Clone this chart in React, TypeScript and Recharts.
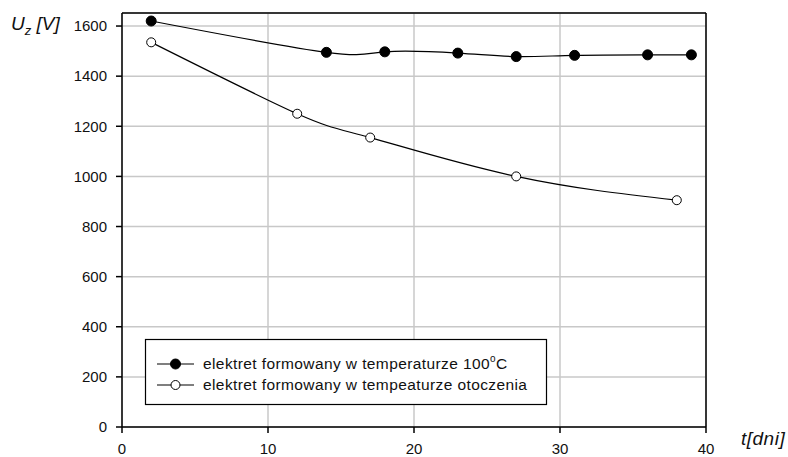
import { CartesianGrid, Line, LineChart, ReferenceLine, XAxis, YAxis } from 'recharts';

// days since forming
const heatedDays = [2, 14, 18, 23, 27, 31, 36, 39];
const heatedVolts = [1620, 1495, 1497, 1492, 1478, 1483, 1485, 1485];

const roomDays = [2, 12, 17, 27, 38];
const roomVolts = [1535, 1250, 1155, 1000, 905];

const xTicks = [0, 10, 20, 30, 40];
const yTicks = [0, 200, 400, 600, 800, 1000, 1200, 1400, 1600];

const heatedData = heatedDays.map((t, i) => ({ t, u: heatedVolts[i] }));
const roomData = roomDays.map((t, i) => ({ t, u: roomVolts[i] }));

const FONT = '"Liberation Sans", Arial, sans-serif';

// legend + axis titles drawn on top of the chart
const Overlay = () => (
  <svg
    width={788}
    height={457}
    style={{ position: 'absolute', left: 0, top: 0, pointerEvents: 'none' }}
    fontFamily={FONT}
    fill="#111"
  >
    <rect x={145.5} y={339.5} width={401} height={65} fill="#fff" stroke="#000" strokeWidth={1.2} />
    <line x1={157} y1={364} x2={194} y2={364} stroke="#000" strokeWidth={1.2} />
    <circle cx={175.5} cy={364} r={5} fill="#000" stroke="#000" />
    <line x1={157} y1={385} x2={194} y2={385} stroke="#000" strokeWidth={1.2} />
    <circle cx={175.5} cy={385} r={4.5} fill="#fff" stroke="#000" />
    <text x={203} y={369} fontSize={15.5} letterSpacing={0.4}>
      elektret formowany w temperaturze 100
      <tspan fontSize={10} dy={-7}>o</tspan>
      <tspan dy={7}>C</tspan>
    </text>
    <text x={203} y={390} fontSize={15.5} letterSpacing={0.4}>
      elektret formowany w tempeaturze otoczenia
    </text>
    <text x={11} y={30} fontSize={19} fontStyle="italic">
      U<tspan fontSize={13} dy={5}>z</tspan>
      <tspan dy={-5}> [V]</tspan>
    </text>
    <text x={741} y={445} fontSize={19} fontStyle="italic" letterSpacing={0.5}>
      t[dni]
    </text>
  </svg>
);

export default function App() {
  return (
    <div style={{ position: 'absolute', left: 0, top: 0, width: 788, height: 457, background: '#fff' }}>
      <LineChart width={788} height={457} margin={{ top: 13, right: 82, bottom: 0, left: 0 }}>
        <CartesianGrid stroke="#c8c8c8" strokeWidth={1.5} />
        <XAxis
          type="number"
          dataKey="t"
          domain={[0, 40]}
          ticks={xTicks}
          height={30}
          tickSize={6}
          tickMargin={10}
          axisLine={{ stroke: '#000', strokeWidth: 1.5 }}
          tickLine={{ stroke: '#000', strokeWidth: 1.5 }}
          tick={{ fill: '#111', fontSize: 15, fontFamily: FONT }}
          allowDuplicatedCategory={false}
        />
        <YAxis
          type="number"
          dataKey="u"
          domain={[0, 1652]}
          ticks={yTicks}
          width={122}
          tickSize={6}
          tickMargin={9}
          axisLine={{ stroke: '#000', strokeWidth: 1.5 }}
          tickLine={{ stroke: '#000', strokeWidth: 1.5 }}
          tick={{ fill: '#111', fontSize: 15, fontFamily: FONT }}
        />
        <ReferenceLine y={1652} stroke="#000" strokeWidth={1.5} />
        <ReferenceLine x={40} stroke="#000" strokeWidth={1.5} />
        <Line
          data={heatedData}
          dataKey="u"
          type="natural"
          stroke="#000"
          strokeWidth={1.2}
          dot={{ r: 5, fill: '#000', stroke: '#000', strokeWidth: 1 }}
          isAnimationActive={false}
        />
        <Line
          data={roomData}
          dataKey="u"
          type="natural"
          stroke="#000"
          strokeWidth={1.2}
          dot={{ r: 4.5, fill: '#fff', stroke: '#000', strokeWidth: 1 }}
          isAnimationActive={false}
        />
      </LineChart>
      <Overlay />
    </div>
  );
}
